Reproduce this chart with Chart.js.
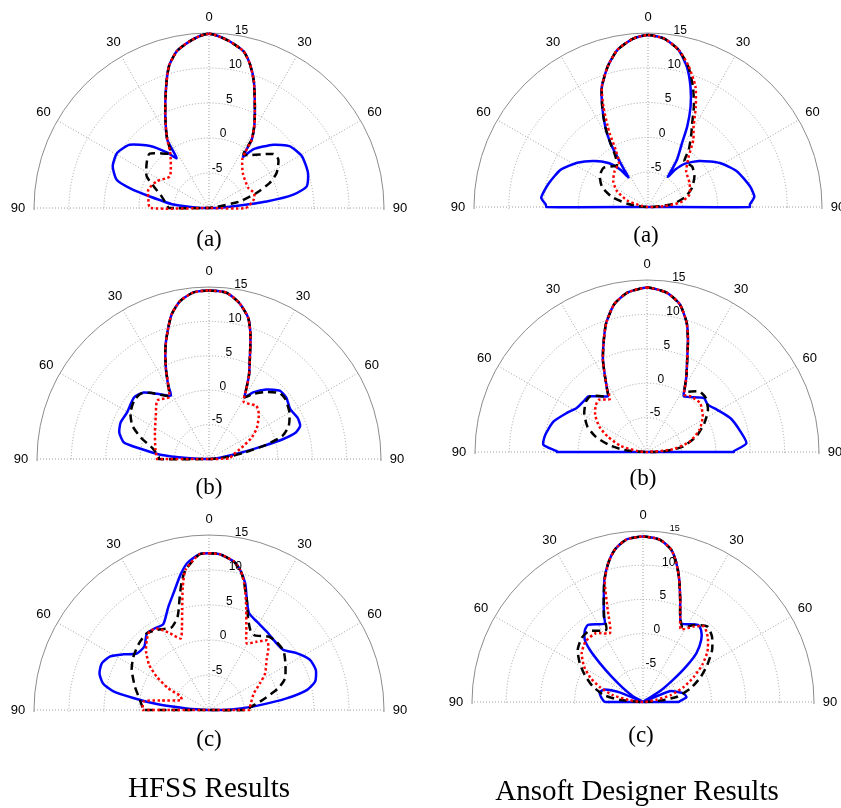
<!DOCTYPE html>
<html>
<head>
<meta charset="utf-8">
<script src="https://cdn.jsdelivr.net/npm/chart.js@4.4.0/dist/chart.umd.min.js"></script>
<style>
  html, body { margin: 0; padding: 0; background: #fff; }
  body { width: 841px; height: 808px; position: relative; overflow: hidden; }
  canvas.polar { position: absolute; }
  .cap { position: absolute; font-family: "Liberation Serif", "Times New Roman", serif; color: #000; white-space: nowrap; transform: translateX(-50%); line-height: 1; }
</style>
</head>
<body>
<script>
// radial axis in dB, angle in degrees (0 = broadside, negative = left)
const R_MIN = -10;
const R_MAX = 15;
const ringTicks = [-5, 0, 5, 10, 15];
const angleTicks = [-90, -60, -30, 0, 30, 60, 90];
const STEP = 0.5;
const angleCats = [];
for (let a = 0; a < 360; a += STEP) angleCats.push(a);
const backSide = [[180, -10]]; // rear half closes through the origin

// ---- HFSS (a)
const hfssA_core = [[-31.5,1.4],[-27.5,3.4],[-23,6.0],[-18.5,9.1],[-15.5,11.2],[-11.5,12.9],[-6.5,14.0],[-3,14.6],[0,14.9],[3,14.6],[7,14.0],[12.5,12.9],[16,11.3],[19.5,9.2],[24,6.1],[28.5,3.6],[32,1.5]];
const hfssA_blue = [[-89.5,-8.7],[-84.5,-4.9],[-79,-1.4],[-76,1.6],[-73,3.8],[-66.5,5.0],[-59,5.3],[-51.5,4.5],[-43.5,2.2],[-37,-0.1],[-33,-1.5], ...hfssA_core, [33.5,-1.2],[37,0.5],[45.5,2.9],[52.5,4.5],[61,5.2],[70.5,5.0],[77.5,4.3],[81,2.2],[83.5,-1.7],[86,-6.5],[89.5,-8.7]];
const hfssA_black = [[-90,-4.2],[-88,-4.1],[-76,-3.0],[-68.5,-1.5],[-63,0.0],[-54,1.0],[-47.5,1.5],[-36,-0.4],[-34,-0.2], ...hfssA_core, [33,-0.9],[50,2.0],[55,2.1],[62.5,0.9],[67.5,-0.6],[72.5,-2.9],[78,-5.5],[82,-8.9]];
const hfssA_red = [[-90,-1.6],[-82,-1.25],[-73,-0.95],[-63,-1.6],[-51,-2.8],[-35.5,-0.5], ...hfssA_core, [33,-0.5],[34.5,-1.6],[44,-3.05],[63,-3.7],[71.5,-3.2],[79.5,-3.5],[90,-4.75]];

// ---- Ansoft (a)
const ansA_blue = [[-90,4.6],[-88.5,4.7],[-85,5.4],[-76.5,4.65],[-67,3.65],[-58,2.0],[-49.5,0.2],[-42,-1.5],[-36.5,-3.35],[-33.5,-4.9],[-32.5,-3.5],[-31.5,-1.5],[-30.5,0.65],[-28,3.1],[-24.5,5.85],[-21,8.5],[-16,11.0],[-11,13.0],[-5,14.3],[0,14.7],[5.5,14.3],[11,13.0],[15.5,10.9],[19.5,8.3],[23,5.65],[26,2.85],[28,0.4],[31.5,-2.0],[32.5,-3.6],[33.5,-4.8],[36,-3.4],[40.5,-1.8],[48.5,0.0],[58.5,2.1],[68,3.75],[78.5,4.95],[84.5,5.35],[88.5,4.65],[90,4.6]];
const ansA_black = [[-85,-9],[-81,-7.0],[-74.5,-4.65],[-66.5,-2.8],[-57,-1.75],[-48.5,-1.5],[-36.5,-2.5],[-32.5,-1.2],[-30.5,0.65],[-28,3.1],[-24.5,5.85],[-21,8.5],[-16,11.0],[-11,13.0],[-5,14.3],[0,14.7],[5.5,14.3],[11,13.0],[16,11.0],[20.5,8.45],[24.5,5.9],[28.5,3.2],[30.5,2.3],[35.5,0.1],[38.5,-1.6],[47.5,-1.4],[56.5,-2.0],[66.5,-3.1],[75,-4.45],[82.5,-6.3],[87,-8.7]];
const ansA_red = [[-80,-9],[-72.5,-6.85],[-63,-5.0],[-53.5,-3.8],[-43.5,-3.0],[-33.5,-2.4],[-29.5,-0.55],[-27.5,1.9],[-26.5,3.0],[-24,5.75],[-21,8.5],[-16,11.0],[-11,13.0],[-5,14.3],[0,14.7],[5.5,14.3],[11,13.0],[16,11.1],[21.5,8.6],[25.5,5.95],[29.5,3.3],[34,1.65],[39.5,-0.9],[47,-2.5],[60,-3.1],[73.5,-3.8],[82,-5.3],[87.5,-7.75]];

// ---- HFSS (b)
const hfssB_core = [[-29,2.2],[-25.5,4.55],[-21.5,7.3],[-18,9.5],[-14.5,11.7],[-10.5,13.3],[-5.5,14.3],[0,14.5],[6,14.3],[11,13.1],[15.5,11.3],[18.5,9.0],[21.5,6.25],[25.5,3.5],[28,1.55]];
const hfssB_blue = [[-87.5,-6.8],[-85,-2.9],[-81.5,0.05],[-79,2.6],[-73.5,3.6],[-67.5,3.9],[-60.5,3.7],[-50.5,4.1],[-44.5,3.55],[-38.5,2.1],[-31,0.75], ...hfssB_core, [30,0.35],[33.5,1.6],[39.5,3.1],[46,4.3],[51.5,4.35],[58.5,3.85],[65,4.2],[70,4.1],[73,3.2],[75,1.1],[76.5,-1.95],[79,-5.45],[83,-8.4]];
const hfssB_black = [[-90,-2.7],[-87.5,-2.7],[-79,-1.6],[-72.5,0.4],[-66.5,2.15],[-59.5,3.25],[-52,3.8],[-46.5,3.75],[-41.5,2.85],[-32.5,0.9], ...hfssB_core, [30,0.35],[34,1.4],[40.5,2.8],[47,4.05],[52,4.1],[60,3.5],[67.5,2.55],[72.5,1.2],[76,-1.4],[80,-5],[84,-7.4]];
const hfssB_red = [[-90,-2.45],[-89.5,-2.45],[-80,-2.1],[-64,-1.25],[-51,-0.05],[-41.5,1.35],[-33,0.7], ...hfssB_core, [31.5,-0.3],[41.5,0.35],[48,-0.25],[57,-1.7],[63.5,-3.1],[71,-5],[79.5,-6.4],[88,-7]];

// ---- Ansoft (b)
const ansB_core = [[-32.5,0.8],[-29,2.6],[-25.5,4.9],[-21,7.5],[-17.5,9.7],[-12.5,12.0],[-7,13.35],[0,13.9],[7,13.35],[12.5,12.0],[17,9.7],[20,7.4],[23.5,4.65],[27.5,2.4],[31,0.6]];
const ansB_blue = [[-90,3.1],[-89.5,3.1],[-86,5.1],[-80.5,5.0],[-72,4.3],[-64,2.95],[-58,2.05],[-51.5,1.8],[-46.5,1.75],[-35,-0.1], ...ansB_core, [33.5,-0.3],[46.5,1.4],[52,1.2],[59,1.9],[68,3.1],[77.5,3.9],[85,4.5],[89.5,2.6],[90,2.6]];
const ansB_black = [[-85,-6.7],[-79.5,-4.4],[-73.5,-2.25],[-67,-0.6],[-58.5,0.7],[-50.5,1.5],[-45,1.55],[-35,-0.05], ...ansB_core, [32.5,0.4],[41,1.65],[47.5,1.6],[55.5,0.75],[63.5,-0.7],[72.5,-2.5],[81.5,-4.75],[87,-7.2]];
const ansB_red = [[-84,-8.6],[-77,-6.1],[-68.5,-3.85],[-62,-2.15],[-54.5,-0.75],[-47.5,0.1],[-42.5,0.3],[-35,-0.6], ...ansB_core, [33,-0.1],[38.5,0.3],[47.5,0.5],[57.5,-0.4],[67,-1.7],[76.5,-3.65],[84,-6.25]];

// ---- HFSS (c)
const hfssC_top = [[-3.5,12.3],[0,12.4],[4,12.3],[9.5,11.5]];
const hfssC_blue = [[-86,-6.8],[-83.5,-2.5],[-81,0.95],[-79,3.9],[-76,5.6],[-71.5,6.5],[-66.5,6.7],[-61.5,6.05],[-57,4.6],[-52,3.1],[-45.5,2.95],[-39,4.1],[-33.5,4.0],[-28,3.9],[-21.5,5.85],[-17,7.4],[-12,9.7],[-8.5,11.2], ...hfssC_top, [12.5,10.5],[16,8.8],[19,6.6],[22.5,4.95],[28.5,4.35],[36.5,3.9],[45.5,3.55],[51,3.65],[57,4.9],[63.5,6.1],[69.5,6.3],[75,5.7],[78.5,4.25],[81.5,1.2],[84.5,-2.7],[88.5,-6.5],[90,-8.2]];
const hfssC_black = [[-90,-0.6],[-89.5,-0.6],[-82,-0.05],[-72.5,1.1],[-62.5,2.45],[-55,3.2],[-46.5,3.8],[-39,4.1],[-33,3.65],[-24.5,2.95],[-18.5,4.1],[-14.5,6.7],[-12,8.75],[-9.5,10.3], ...hfssC_top, [13,10.3],[15.5,8.8],[19,6.6],[23.5,4.05],[28,2.7],[31.5,2.5],[39,3.5],[44.5,3.7],[51.5,3.6],[58.5,2.8],[67.5,1.75],[72.5,0.4],[79,-2.1],[86.5,-4.1],[90,-4.6]];
const hfssC_red = [[-90,-0.5],[-89.5,-0.5],[-82.5,-0.6],[-79,-2.9],[-70,-5.85],[-64,-5.4],[-62,-3.4],[-57.5,-1.15],[-53,0.7],[-47,2.3],[-41.5,3.4],[-37,4.1],[-32,3.7],[-27,2.3],[-21.5,1.0],[-18,2.5],[-15,4.8],[-12,8.0],[-9.5,10.3], ...hfssC_top, [13,10.3],[15.5,8.8],[18.5,6.6],[20.5,5.2],[25.5,2.4],[29.5,0.95],[35,1.9],[40,2.95],[44,2.2],[49,0.9],[57,-0.45],[62.5,-1.8],[69.5,-3.15],[81,-3.95],[89,-4.25],[90,-4.25]];

// ---- Ansoft (c)
const ansC_core = [[-14,10.95],[-10.5,12.65],[-6,13.85],[0,14.2],[6,13.85],[10.5,12.65],[13.5,10.9],[16.5,8.65],[20,5.9],[23.5,3.65]];
const ansC_blue = [[-90,-4.5],[-88,-4.2],[-83,-3.8],[-77.5,-3.5],[-72,-4.1],[-67.5,-6.3],[-62,-10],[-60,-8.3],[-55,-6.4],[-51,-4.05],[-48,-1.5],[-45.5,0.9],[-43,2.5],[-39,3.5],[-35.5,3.85],[-26,2.75],[-24.5,3.75],[-21,6.0],[-17.5,8.75], ...ansC_core, [26,2.75],[35.5,3.85],[39,3.5],[43,2.5],[47.5,0.6],[50.5,-1.8],[53.5,-4.5],[57.5,-7.1],[63,-10],[68,-5.8],[77.5,-4.0],[83.5,-3.6],[88,-4.5],[90,-4.8]];
const ansC_black = [[-85,-6.7],[-80,-4.2],[-72.5,-2.25],[-65,-0.6],[-58.5,0.85],[-51.5,2.2],[-44,2.95],[-37.5,3.05],[-27,1.85],[-24.5,3.75],[-21,6.0],[-17.5,8.75], ...ansC_core, [28,2.35],[33.5,3.5],[40.5,4.5],[46.5,3.9],[53,2.65],[60,0.85],[66.5,-0.8],[74,-2.75],[81,-4.9],[85.5,-7.4]];
const ansC_red = [[-82,-7.9],[-77,-5.4],[-71,-3.35],[-65.5,-1.6],[-59,0.05],[-51.5,1.45],[-43.5,2.2],[-34.5,2.2],[-25.5,1.2],[-21,4.4],[-17.5,8.6], ...ansC_core, [27.5,2.0],[34,3.3],[39,4.2],[45.5,3.3],[52,1.95],[58,0.2],[63.5,-1.65],[69.5,-3.6],[76,-5.8],[81,-8.1]];

const captions = ['(a)', '(a)', '(b)', '(b)', '(c)', '(c)'];
const columnTitles = ['HFSS Results', 'Ansoft Designer Results'];

// layout of the six half-polar panels (pixels)
const panels = [
  { cx: 209, cy: 208, R: 175, curves: [hfssA_red, hfssA_black, hfssA_blue], capX: 209, capBase: 246, topFont: 12 },
  { cx: 648, cy: 207, R: 174.5, curves: [ansA_red, ansA_black, ansA_blue], capX: 646, capBase: 242, topFont: 12 },
  { cx: 209, cy: 459, R: 172, curves: [hfssB_red, hfssB_black, hfssB_blue], capX: 209, capBase: 494, topFont: 12 },
  { cx: 647, cy: 452, R: 172, curves: [ansB_red, ansB_black, ansB_blue], capX: 643, capBase: 485, topFont: 12 },
  { cx: 209, cy: 710, R: 175, curves: [hfssC_red, hfssC_black, hfssC_blue], capX: 209, capBase: 746, topFont: 12 },
  { cx: 643, cy: 702, R: 171, curves: [ansC_red, ansC_black, ansC_blue], capX: 641, capBase: 742, topFont: 9 }
];
const lineStyles = [
  { color: '#ff0000', width: 2.5, dash: [2.5, 2.5] },
  { color: '#000000', width: 2.5, dash: [8, 5] },
  { color: '#0000ff', width: 2.5, dash: [] }
];

function indexOfAngle(deg) {
  return Math.round((((deg % 360) + 360) % 360) / STEP) % angleCats.length;
}

function toSeries(points) {
  const arr = angleCats.map(() => null);
  points.concat(backSide).forEach(([deg, db]) => { arr[indexOfAngle(deg)] = db; });
  return arr;
}

function isSpoke(index) {
  const deg = angleCats[index];
  return deg % 30 === 0 && (deg <= 90 || deg >= 270);
}

const polarDecor = {
  id: 'polarDecor',
  beforeDraw(chart) {
    const s = chart.scales.r;
    const ctx = chart.ctx;
    ctx.save();
    ctx.beginPath();
    ctx.rect(0, 0, chart.width, s.yCenter + 2);
    ctx.clip();
  },
  afterDatasetsDraw(chart) {
    chart.ctx.restore();
  },
  afterDraw(chart, args, opts) {
    const s = chart.scales.r;
    const ctx = chart.ctx;
    ctx.save();
    ctx.fillStyle = '#000';
    ctx.textAlign = 'center';
    ctx.textBaseline = 'middle';
    ctx.font = '13px "Liberation Sans", Arial, sans-serif';
    angleTicks.forEach(a => {
      const pos = s.getPointPosition(indexOfAngle(a), s.drawingArea + 16);
      ctx.fillText(String(Math.abs(a)), pos.x, pos.y);
    });
    ringTicks.forEach(v => {
      const size = v === R_MAX ? opts.topFont : 12;
      ctx.font = size + 'px "Liberation Sans", Arial, sans-serif';
      const pos = s.getPointPosition(indexOfAngle(10), s.getDistanceFromCenterForValue(v));
      ctx.fillText(String(v), pos.x + 2, pos.y - 5);
    });
    ctx.restore();
  }
};

const SIZE = 440;
const HALF = SIZE / 2;

panels.forEach((p, k) => {
  const cv = document.createElement('canvas');
  cv.width = SIZE;
  cv.height = SIZE;
  cv.className = 'polar';
  cv.style.left = (p.cx - HALF) + 'px';
  cv.style.top = (p.cy - HALF) + 'px';
  document.body.appendChild(cv);

  new Chart(cv, {
    type: 'radar',
    data: {
      labels: angleCats,
      datasets: p.curves.map((c, i) => ({
        data: toSeries(c),
        borderColor: lineStyles[i].color,
        borderWidth: lineStyles[i].width,
        borderDash: lineStyles[i].dash,
        spanGaps: true,
        fill: false,
        pointRadius: 0,
        pointHitRadius: 0,
        tension: 0.2
      }))
    },
    options: {
      responsive: false,
      animation: false,
      events: [],
      layout: { padding: HALF - p.R },
      plugins: {
        legend: { display: false },
        tooltip: { enabled: false },
        polarDecor: { topFont: p.topFont }
      },
      scales: {
        r: {
          min: R_MIN,
          max: R_MAX,
          ticks: { display: false, stepSize: 5 },
          pointLabels: { display: false },
          grid: {
            circular: true,
            color: ctx => (ctx.tick && ctx.tick.value === R_MAX) ? '#8c8c8c' : '#a0a0a0',
            lineWidth: 1
          },
          border: { dash: ctx => (ctx.tick && ctx.tick.value === R_MAX) ? [] : [1, 2] },
          angleLines: {
            color: '#a0a0a0',
            lineWidth: ctx => isSpoke(ctx.index) ? 1 : 0,
            borderDash: [1, 2]
          }
        }
      }
    },
    plugins: [polarDecor]
  });

  const cap = document.createElement('div');
  cap.className = 'cap';
  cap.textContent = captions[k];
  cap.style.fontSize = '23px';
  cap.style.left = p.capX + 'px';
  cap.style.top = (p.capBase - 0.8375 * 23) + 'px';
  document.body.appendChild(cap);
});

[[209, 797], [637, 800]].forEach((pos, i) => {
  const t = document.createElement('div');
  t.className = 'cap';
  t.textContent = columnTitles[i];
  t.style.fontSize = '29px';
  t.style.left = pos[0] + 'px';
  t.style.top = (pos[1] - 0.8375 * 29) + 'px';
  document.body.appendChild(t);
});
</script>
</body>
</html>
